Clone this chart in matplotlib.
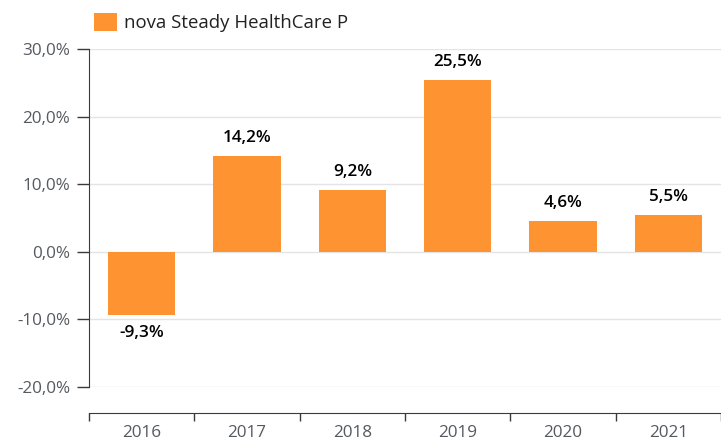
import matplotlib
matplotlib.use("Agg")
import matplotlib.pyplot as plt
import numpy as np

years = ["2016", "2017", "2018", "2019", "2020", "2021"]
returns = [-9.3, 14.2, 9.2, 25.5, 4.6, 5.5]
series_name = "nova Steady HealthCare P"
y_ticks = [-20, -10, 0, 10, 20, 30]

BAR_COLOR = "#fe9431"
AXIS_COLOR = "#3a3a3a"
TEXT_COLOR = "#555a60"


def pct(v):
    return f"{v:.1f}%".replace(".", ",")


plt.rcParams["font.family"] = ["Open Sans", "DejaVu Sans"]

fig = plt.figure(figsize=(7.21, 4.41), dpi=100)
ax = fig.add_axes([89 / 721, 1 - 387 / 441, 1 - 89 / 721, (387 - 49.3) / 441])

x = np.arange(len(years))
bars = ax.bar(x, returns, width=0.64, color=BAR_COLOR, label=series_name, zorder=3)

for xi, v in zip(x, returns):
    off = 13.0 if v >= 0 else -13.5
    ax.annotate(pct(v), (xi, v), xytext=(0, off), textcoords="offset points",
                ha="center", va="center", fontsize=12.3, color="black",
                fontweight="semibold")

ax.set_xlim(-0.5, len(years) - 0.5)
ax.set_ylim(-20, 30)
ax.set_yticks(y_ticks)
ax.set_yticklabels([pct(t) for t in y_ticks])
ax.yaxis.grid(True, color="#e4e4e4", linewidth=1, zorder=0)
ax.tick_params(axis="y", length=8.6, width=1, color=AXIS_COLOR, pad=5,
               labelsize=12.3, labelcolor=TEXT_COLOR)

# x axis: ticks at category boundaries, labels at centres
ax.set_xticks(np.arange(len(years) + 1) - 0.5)
ax.set_xticklabels([])
ax.set_xticks(x, minor=True)
ax.set_xticklabels(years, minor=True)
ax.tick_params(axis="x", which="major", direction="out", length=6, width=1, color=AXIS_COLOR)
ax.tick_params(axis="x", which="minor", length=0, pad=8.5, labelsize=12.3, labelcolor=TEXT_COLOR)

for s in ["top", "right"]:
    ax.spines[s].set_visible(False)
ax.spines["left"].set_color(AXIS_COLOR)
ax.spines["bottom"].set_color(AXIS_COLOR)
ax.spines["bottom"].set_position(("outward", 18.7))

leg = ax.legend(loc="upper left", bbox_to_anchor=(94 / 721, 1 - 13 / 441), bbox_transform=fig.transFigure,
                frameon=False, borderpad=0, borderaxespad=0, handlelength=1.25, handleheight=1.1,
                handletextpad=0.35, fontsize=13.4)
for t in leg.get_texts():
    t.set_color("#222222")

fig.savefig("out.png", dpi=100)
